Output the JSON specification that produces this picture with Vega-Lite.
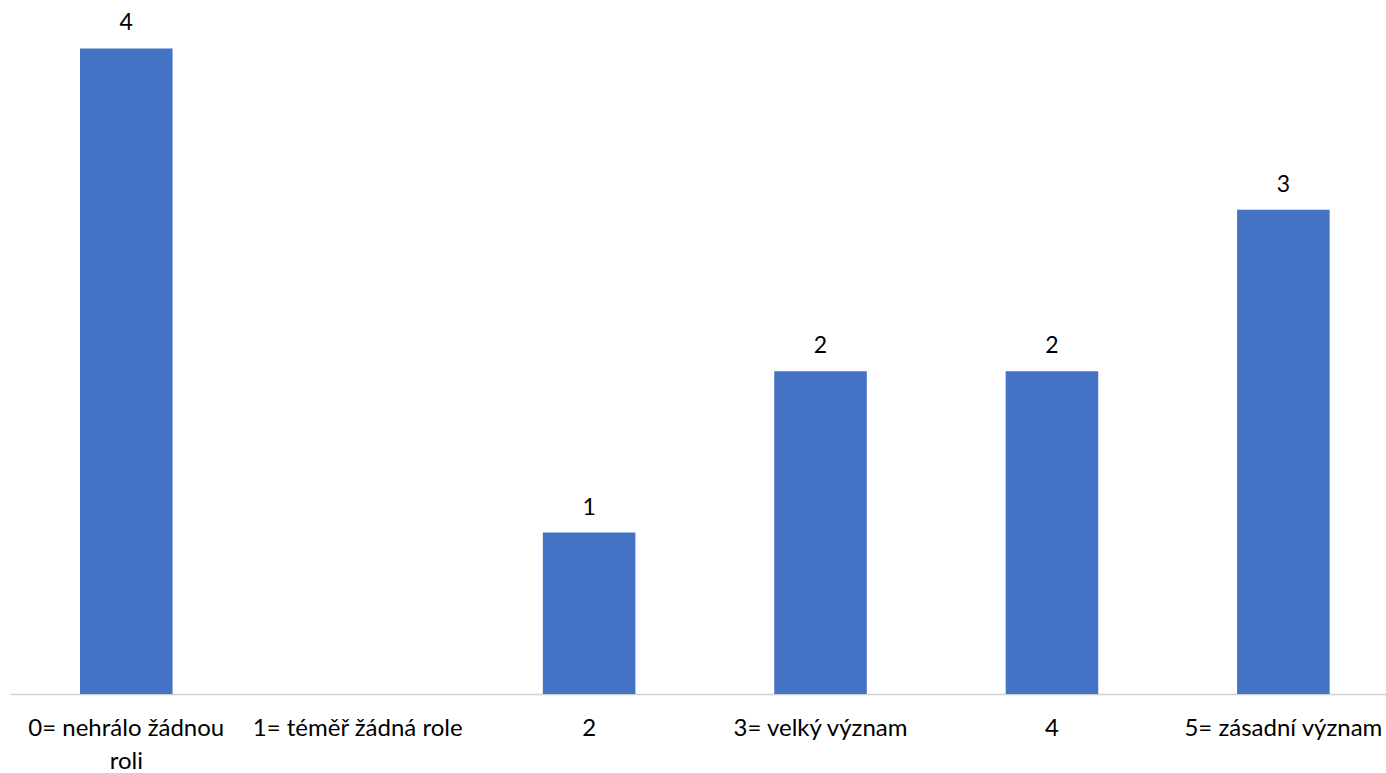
{
  "$schema": "https://vega.github.io/schema/vega-lite/v6.json",
  "autosize": {"type": "none"},
  "padding": {"left": 10, "top": 0, "right": 0, "bottom": 79},
  "width": 1376,
  "height": 694,
  "background": "white",
  "config": {"view": {"stroke": null}, "font": "Lato"},
  "data": {"values": [
    {"k": "0= nehrálo žádnou roli", "v": 4},
    {"k": "1= téměř žádná role", "v": 0},
    {"k": "2", "v": 1},
    {"k": "3= velký význam", "v": 2},
    {"k": "4", "v": 2},
    {"k": "5= zásadní význam", "v": 3}
  ]},
  "encoding": {
    "x": {"field": "k", "type": "nominal", "sort": null,
      "scale": {"paddingInner": 0.6, "paddingOuter": 0.273, "align": 0.554},
      "axis": {"title": null, "labelAngle": 0, "labelFontSize": 24, "labelColor": "#000000",
        "labelPadding": 22, "labelLimit": 300, "labelLineHeight": 33,
        "labelExpr": "datum.value == '0= nehrálo žádnou roli' ? ['0= nehrálo žádnou', 'roli'] : datum.value",
        "ticks": false, "domainColor": "#d0d0d0", "domainWidth": 1.5, "grid": false}},
    "y": {"field": "v", "type": "quantitative",
      "scale": {"domain": [0, 4.3], "nice": false, "zero": true},
      "axis": null}
  },
  "layer": [
    {"mark": {"type": "bar", "color": "#4472C4"}},
    {"transform": [{"filter": "datum.v > 0"}],
     "mark": {"type": "text", "baseline": "alphabetic", "dy": -18, "fontSize": 23, "color": "#000000"},
     "encoding": {"text": {"field": "v", "type": "quantitative"}}}
  ]
}
